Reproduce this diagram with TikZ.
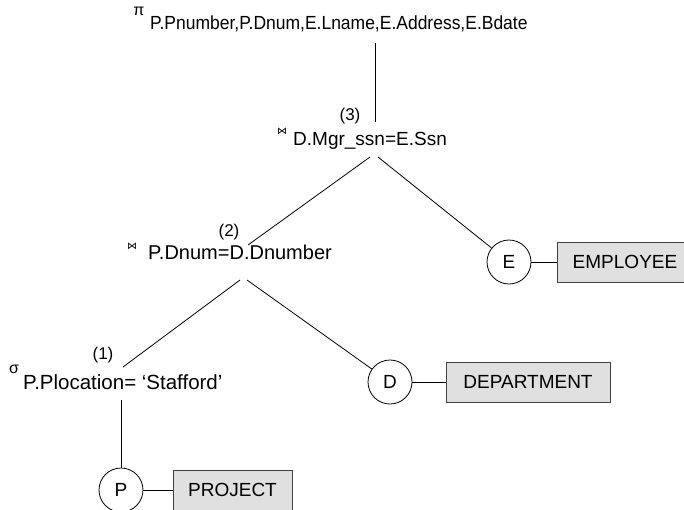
\documentclass[tikz,border=0pt]{standalone}
\usepackage{fontspec}
\setmainfont{Liberation Sans}
\newfontfamily\symfont{DejaVu Sans}
\newfontfamily\narrowfont[FakeStretch=0.92]{Liberation Sans}
\begin{document}
\begin{tikzpicture}[x=1pt,y=-1pt,
  lbl/.style={inner sep=0pt, anchor=base west},
  num/.style={inner sep=0pt, font=\fontsize{17}{20}\selectfont},
  opsym/.style={inner sep=0pt, font=\fontsize{16}{18}\selectfont},
  joinsym/.style={inner sep=0pt, font=\symfont\fontsize{10}{12}\selectfont},
  rel/.style={circle, draw, line width=0.8pt, minimum size=44pt, inner sep=0pt, font=\fontsize{19}{22}\selectfont},
  tbl/.style={draw=black!75, fill=black!12, line width=0.8pt, minimum height=40pt, inner sep=0pt, font=\fontsize{19}{22}\selectfont},
  edge/.style={line width=0.8pt}]
\useasboundingbox (0,0) rectangle (684,509);

% projection
\node[opsym] (pi) at (139,11) {π};
\node[lbl, font=\narrowfont\fontsize{19}{22}\selectfont] (proj) at (150,29) {P.Pnumber,P.Dnum,E.Lname,E.Address,E.Bdate};
\coordinate (projb) at (375,43);

% join 3
\node[num] (n3) at (350,116) {(3)};
\node[joinsym] (b3) at (282,131) {⋈};
\node[lbl, font=\fontsize{19}{22}\selectfont] (j3) at (293,145) {D.Mgr\_ssn=E.Ssn};
\coordinate (j3t) at (375,122);
\coordinate (j3l) at (370,157);
\coordinate (j3r) at (378,157);

% join 2
\node[num] (n2) at (229,232) {(2)};
\node[joinsym] (b2) at (132,246) {⋈};
\node[lbl, font=\fontsize{20}{24}\selectfont] (j2) at (148,259) {P.Dnum=D.Dnumber};
\coordinate (j2t) at (248,245);
\coordinate (j2l) at (240,280);
\coordinate (j2r) at (247,280);

% selection
\node[num] (n1) at (103,355) {(1)};
\node[opsym] (sg) at (14,369) {σ};
\node[lbl, font=\fontsize{20.5}{24}\selectfont] (sel) at (23,389) {P.Plocation= ‘Stafford’};
\coordinate (selt) at (123,367);
\coordinate (selb) at (121,400);

% relations
\node[rel] (E) at (509,262) {E};
\node[rel] (D) at (390,382) {D};
\node[rel] (P) at (121,490) {P};

\node[tbl, minimum width=140pt] (EMP) at (627,262) {EMPLOYEE\hspace*{4pt}};
\node[tbl, minimum width=164pt] (DEP) at (528,382) {DEPARTMENT};
\node[tbl, minimum width=119pt] (PRO) at (232.5,490) {PROJECT};

% connectors
\draw[edge] (projb) -- (j3t);
\draw[edge] (j3l) -- (j2t);
\draw[edge] (j3r) -- (E);
\draw[edge] (j2l) -- (selt);
\draw[edge] (j2r) -- (D);
\draw[edge] (selb) -- (P);
\draw[edge] (E) -- (EMP);
\draw[edge] (D) -- (DEP);
\draw[edge] (P) -- (PRO);
\end{tikzpicture}
\end{document}
